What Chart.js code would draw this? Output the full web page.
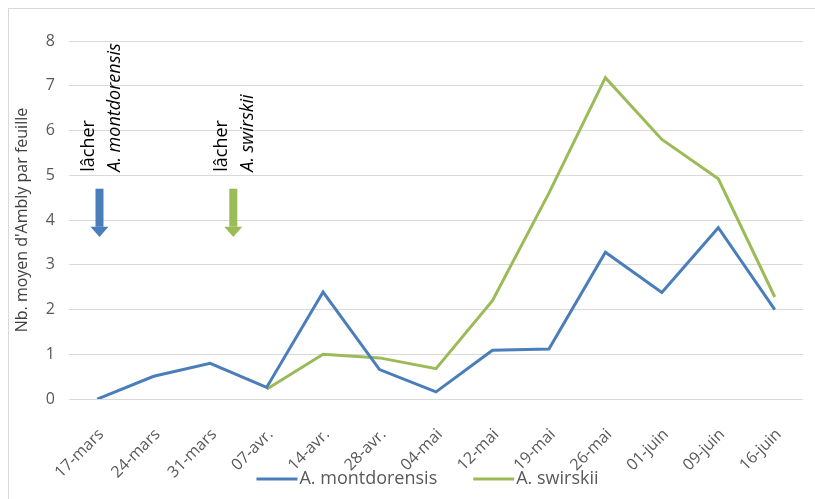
<!DOCTYPE html>
<html>
<head>
<meta charset="utf-8">
<script src="https://cdn.jsdelivr.net/npm/chart.js@4/dist/chart.umd.min.js"></script>
<style>
  html, body { margin: 0; padding: 0; background: #fff; }
  #wrap { position: relative; width: 815px; height: 499px; overflow: hidden; }
  #frame { position: absolute; left: 8px; top: 8px; width: 900px; height: 600px;
           border-left: 1px solid #d9d9d9; border-top: 1px solid #d9d9d9; }
  #chart { position: absolute; left: 0; top: 0; }
</style>
</head>
<body>
<div id="wrap">
  <div id="frame"></div>
  <canvas id="chart" width="815" height="499"></canvas>
</div>
<script>
// Dates de releve
const dates = ['17-mars', '24-mars', '31-mars', '07-avr.', '14-avr.', '28-avr.', '04-mai',
               '12-mai', '19-mai', '26-mai', '01-juin', '09-juin', '16-juin'];

// Nb. moyen d'Ambly par feuille
const montdorensis = [0, 0.51, 0.80, 0.26, 2.39, 0.66, 0.16, 1.09, 1.12, 3.28, 2.38, 3.83, 2.0];
const swirskii = [null, null, null, 0.22, 1.0, 0.92, 0.68, 2.2, 4.6, 7.18, 5.8, 4.92, 2.28];

// Lachers (position sur l'axe des dates)
const releaseNames = ['A. montdorensis', 'A. swirskii'];
const releaseAt = [0.04, 2.41];

const BLUE = '#4a7ebb';
const GREEN = '#9bbb59';
const FONT = "'Open Sans', sans-serif";

Chart.defaults.font.family = FONT;
Chart.defaults.color = '#595959';

/**
 * Fleches et textes des lachers
 */
const releasePlugin = {
  id: 'releases',
  afterDatasetsDraw(chart) {
    const { ctx, scales: { x, y } } = chart;
    const colors = [BLUE, GREEN];
    releaseAt.forEach((at, i) => {
      const px = x.getPixelForValue(at);
      const top = y.getPixelForValue(4.7);
      const base = y.getPixelForValue(3.85);
      const tip = y.getPixelForValue(3.62);

      ctx.save();
      ctx.fillStyle = colors[i];
      ctx.fillRect(px - 4, top, 8, base - top);
      ctx.beginPath();
      ctx.moveTo(px - 9, base);
      ctx.lineTo(px + 9, base);
      ctx.lineTo(px, tip);
      ctx.closePath();
      ctx.fill();

      // texte vertical
      const ty = y.getPixelForValue(5.08);
      ctx.fillStyle = '#000';
      ctx.textAlign = 'left';
      ctx.textBaseline = 'middle';
      ctx.translate(px, ty);
      ctx.rotate(-Math.PI / 2);
      ctx.font = '18px ' + FONT;
      ctx.fillText('lâcher', 0, -11);
      ctx.font = 'italic 18px ' + FONT;
      ctx.fillText(releaseNames[i], 0, 15);
      ctx.restore();
    });
  }
};

/**
 * Legende en bas (trait + texte, espacement large)
 */
const legendPlugin = {
  id: 'bottomLegend',
  afterDraw(chart) {
    const ctx = chart.ctx;
    const sets = chart.data.datasets;
    const lineLen = 41, gap = 2, spacing = 36;
    ctx.save();
    ctx.font = '18px ' + FONT;
    const widths = sets.map(ds => lineLen + gap + ctx.measureText(ds.label).width);
    const total = widths.reduce((a, b) => a + b, 0) + spacing * (sets.length - 1);
    const cy = chart.height - 20;
    let cx = chart.width / 2 + 20 - total / 2;
    sets.forEach((ds, i) => {
      ctx.strokeStyle = ds.borderColor;
      ctx.lineWidth = 3;
      ctx.beginPath();
      ctx.moveTo(cx, cy);
      ctx.lineTo(cx + lineLen, cy);
      ctx.stroke();
      ctx.fillStyle = '#595959';
      ctx.textAlign = 'left';
      ctx.textBaseline = 'middle';
      ctx.fillText(ds.label, cx + lineLen + gap, cy);
      cx += widths[i] + spacing;
    });
    ctx.restore();
  }
};

const ctx = document.getElementById('chart').getContext('2d');

new Chart(ctx, {
  type: 'line',
  data: {
    labels: dates,
    datasets: [
      {
        label: 'A. montdorensis',
        data: montdorensis,
        borderColor: BLUE,
        backgroundColor: BLUE,
        borderWidth: 3,
        pointRadius: 0,
        tension: 0
      },
      {
        label: 'A. swirskii',
        data: swirskii,
        borderColor: GREEN,
        backgroundColor: GREEN,
        borderWidth: 3,
        pointRadius: 0,
        tension: 0
      }
    ]
  },
  options: {
    responsive: false,
    animation: false,
    layout: {
      padding: { left: 0, right: 12, top: 41, bottom: -1 }
    },
    plugins: {
      legend: { display: false },
      tooltip: { enabled: false }
    },
    scales: {
      x: {
        offset: true,
        grid: { display: false },
        border: { display: false },
        ticks: {
          maxRotation: 45,
          minRotation: 45,
          autoSkip: false,
          padding: 18,
          labelOffset: 4,
          font: { size: 16 },
          color: '#595959'
        }
      },
      y: {
        min: 0,
        max: 8,
        grid: { color: '#d9d9d9', lineWidth: 1, drawTicks: false },
        border: { display: false },
        ticks: {
          stepSize: 1,
          padding: 14,
          font: { size: 16 },
          color: '#595959'
        },
        title: {
          display: true,
          text: "Nb. moyen d'Ambly par feuille",
          color: '#404040',
          font: { size: 16 },
          padding: { top: 13, bottom: 0 }
        },
        afterFit(scale) { scale.width = 69; }
      }
    }
  },
  plugins: [releasePlugin, legendPlugin]
});
</script>
</body>
</html>
